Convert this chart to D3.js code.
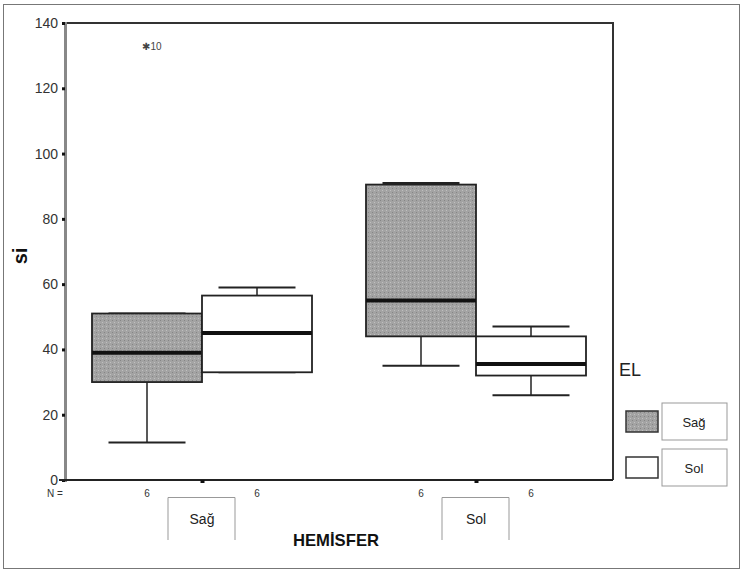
<!DOCTYPE html>
<html>
<head>
<meta charset="utf-8">
<script src="https://cdn.jsdelivr.net/npm/d3@7"></script>
<style>
  body { margin: 0; background: #fff; }
  svg { display: block; }
</style>
</head>
<body>
<div id="chart"></div>
<script>
// HEMİSFER groups on the x axis, EL (hand) as the fill series
const hemispheres = ['Sağ', 'Sol'];
const hands = ['Sağ', 'Sol'];
const handFill = { 'Sağ': '#a3a3a3', 'Sol': '#ffffff' };

// box stats: [hemisphere, hand, low, q1, median, q3, high, n]
const boxes = [
  ['Sağ', 'Sağ', 11.5, 30, 39, 51, 51, 6],
  ['Sağ', 'Sol', 33, 33, 45, 56.5, 59, 6],
  ['Sol', 'Sağ', 35, 44, 55, 90.5, 91, 6],
  ['Sol', 'Sol', 26, 32, 35.5, 44, 47, 6],
];
const extremes = [['Sağ', 'Sağ', 133, '10']];
const yTicks = [0, 20, 40, 60, 80, 100, 120, 140];

const width = 742, height = 571;
const plot = { left: 65, right: 613, top: 23, bottom: 480 };

const svg = d3.select('#chart').append('svg')
  .attr('width', width).attr('height', height)
  .style('font-family', 'Arial, "Liberation Sans", sans-serif');

// stippled grey for the Sağ boxes
const defs = svg.append('defs');
const pat = defs.append('pattern').attr('id', 'stip')
  .attr('width', 4).attr('height', 4).attr('patternUnits', 'userSpaceOnUse');
pat.append('rect').attr('width', 4).attr('height', 4).attr('fill', '#a3a3a3');
pat.append('rect').attr('x', 0).attr('y', 0).attr('width', 1).attr('height', 1).attr('fill', '#858585');
pat.append('rect').attr('x', 2).attr('y', 2).attr('width', 1).attr('height', 1).attr('fill', '#c0c0c0');

// outer frame
svg.append('rect')
  .attr('x', 3.5).attr('y', 4.5).attr('width', 736).attr('height', 564)
  .attr('fill', 'none').attr('stroke', '#777').attr('stroke-width', 1);

const x = d3.scalePoint().domain(hemispheres).range([plot.left, plot.right]).padding(0.5);
const xInner = d3.scaleBand().domain(hands).range([-110, 110]).padding(0);
const y = d3.scaleLinear().domain([0, 140]).range([plot.bottom, plot.top]);

// plot frame (top + right)
svg.append('path')
  .attr('d', `M${plot.left},${plot.top}H${plot.right}V${plot.bottom}`)
  .attr('fill', 'none').attr('stroke', '#333').attr('stroke-width', 2);

// y axis
const yAxisG = svg.append('g').attr('transform', `translate(${plot.left},0)`)
  .call(d3.axisLeft(y).tickValues(yTicks).tickSize(3).tickPadding(4));
yAxisG.select('.domain').attr('stroke', '#888').attr('stroke-width', 3);
yAxisG.selectAll('.tick line').attr('stroke', '#111').attr('stroke-width', 3);
yAxisG.selectAll('.tick text').attr('font-size', 14).attr('fill', '#333');

// x axis line
const xAxisG = svg.append('g').attr('transform', `translate(0,${plot.bottom})`)
  .call(d3.axisBottom(x).tickSize(3).tickFormat(''));
xAxisG.select('.domain').attr('stroke', '#222').attr('stroke-width', 2)
  .attr('d', `M${plot.left - 6},0H${plot.right}`);
xAxisG.selectAll('.tick line').attr('stroke', '#111').attr('stroke-width', 4);

// boxes
const bw = xInner.bandwidth();
const g = svg.append('g');
boxes.forEach(([hem, hand, lo, q1, med, q3, hi, n]) => {
  const x0 = x(hem) + xInner(hand);
  const cx = x0 + bw / 2;
  // whiskers
  if (hi > q3) {
    g.append('line').attr('x1', cx).attr('x2', cx).attr('y1', y(q3)).attr('y2', y(hi))
      .attr('stroke', '#222').attr('stroke-width', 1.5);
  }
  if (lo < q1) {
    g.append('line').attr('x1', cx).attr('x2', cx).attr('y1', y(q1)).attr('y2', y(lo))
      .attr('stroke', '#222').attr('stroke-width', 1.5);
  }
  [lo, hi].forEach(v => {
    g.append('line').attr('x1', cx - bw * 0.35).attr('x2', cx + bw * 0.35)
      .attr('y1', y(v)).attr('y2', y(v))
      .attr('stroke', '#222').attr('stroke-width', 2);
  });
  g.append('rect')
    .attr('x', x0).attr('y', y(q3)).attr('width', bw).attr('height', y(q1) - y(q3))
    .attr('fill', hand === 'Sağ' ? 'url(#stip)' : handFill[hand])
    .attr('stroke', '#222').attr('stroke-width', 1.8);
  g.append('line').attr('x1', x0).attr('x2', x0 + bw).attr('y1', y(med)).attr('y2', y(med))
    .attr('stroke', '#111').attr('stroke-width', 4);
  // N labels
  svg.append('text').attr('x', cx).attr('y', plot.bottom + 17)
    .attr('text-anchor', 'middle').attr('font-size', 10).attr('fill', '#333').text(n);
});

// extreme value marker
extremes.forEach(([hem, hand, v, label]) => {
  const cx = x(hem) + xInner(hand) + bw / 2;
  svg.append('text').attr('x', cx + 5).attr('y', y(v) + 4)
    .attr('text-anchor', 'middle').attr('font-size', 10).attr('fill', '#444')
    .text('✱' + label);
});

svg.append('text').attr('x', 47).attr('y', plot.bottom + 17)
  .attr('font-size', 10).attr('fill', '#333').text('N =');

// category label boxes under axis
hemispheres.forEach(h => {
  const cx = x(h);
  svg.append('path')
    .attr('d', `M${cx - 34},540V497.5H${cx + 33}V540`)
    .attr('fill', 'none').attr('stroke', '#999').attr('stroke-width', 1);
  svg.append('text').attr('x', cx).attr('y', 524)
    .attr('text-anchor', 'middle').attr('font-size', 14).attr('fill', '#222').text(h);
});

// axis titles
svg.append('text').attr('x', 336).attr('y', 546)
  .attr('text-anchor', 'middle')
  .style('font-family', '"Liberation Sans Narrow", "Arial Narrow", sans-serif')
  .attr('font-weight', 'bold').attr('font-size', 17).attr('fill', '#111')
  .attr('textLength', 86).attr('lengthAdjust', 'spacingAndGlyphs')
  .text('HEMİSFER');
svg.append('text')
  .attr('transform', 'translate(27,256) rotate(-90)')
  .attr('text-anchor', 'middle').attr('font-weight', 'bold').attr('font-size', 20).attr('fill', '#111')
  .text('si');

// legend
svg.append('text').attr('x', 619).attr('y', 376)
  .attr('font-size', 18).attr('fill', '#222').text('EL');
hands.forEach((h, i) => {
  const top = 411 + i * 46;
  svg.append('rect').attr('x', 626).attr('y', top).attr('width', 32).attr('height', 21)
    .attr('fill', h === 'Sağ' ? 'url(#stip)' : handFill[h])
    .attr('stroke', '#333').attr('stroke-width', 1.5);
  svg.append('rect').attr('x', 662).attr('y', top - 8).attr('width', 65).attr('height', 37)
    .attr('fill', 'none').attr('stroke', '#999').attr('stroke-width', 1);
  svg.append('text').attr('x', 694).attr('y', top + 16)
    .attr('text-anchor', 'middle').attr('font-size', 13).attr('fill', '#222').text(h);
});
</script>
</body>
</html>
